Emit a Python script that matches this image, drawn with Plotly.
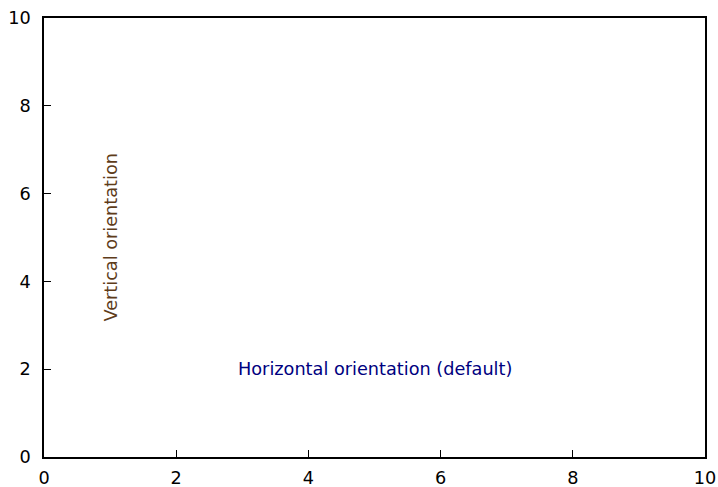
import plotly.graph_objects as go

x_range = [0, 10]
y_range = [0, 10]
tick_vals = [0, 2, 4, 6, 8, 10]
label_texts = ["Vertical orientation", "Horizontal orientation (default)"]
label_x = [1, 5]
label_y = [5, 2]
label_angles = [-90, 0]
label_colors = ["#5e3c1a", "#000080"]

fig = go.Figure()
fig.add_trace(go.Scatter(x=[], y=[], showlegend=False))
for t, x, y, a, c in zip(label_texts, label_x, label_y, label_angles, label_colors):
    fig.add_annotation(x=x, y=y, text=t, textangle=a, showarrow=False,
                       font=dict(family="DejaVu Sans", size=17.7, color=c),
                       xanchor="center", yanchor="middle")

axis_common = dict(showgrid=False, zeroline=False, showline=True, linecolor="black",
                   linewidth=1.5, mirror=True, ticks="inside", ticklen=7, tickcolor="black",
                   automargin=False,
                   tickvals=tick_vals, tickfont=dict(family="DejaVu Sans", size=17.7, color="black"))
fig.update_xaxes(range=x_range, ticklabelstandoff=4, **axis_common)
fig.update_yaxes(range=y_range, ticklabelstandoff=8, **axis_common)
fig.update_layout(width=718, height=487, margin=dict(l=44, r=13, t=18, b=30),
                  plot_bgcolor="white", paper_bgcolor="white")
fig.write_html("out.html", config={"displayModeBar": False},
               post_script="document.body.style.margin='0';document.body.style.overflow='hidden';")
